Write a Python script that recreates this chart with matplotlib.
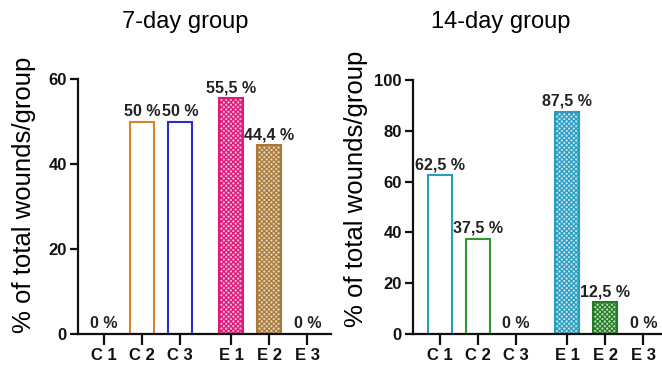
import matplotlib.pyplot as plt
import numpy as np

plt.rcParams['font.family'] = ['Liberation Sans', 'DejaVu Sans']
plt.rcParams['hatch.linewidth'] = 0.9

# Data
groups = ["C 1", "C 2", "C 3", "E 1", "E 2", "E 3"]
values_7 = [0, 50, 50, 55.5, 44.4, 0]
labels_7 = ["0 %", "50 %", "50 %", "55,5 %", "44,4 %", "0 %"]
values_14 = [62.5, 37.5, 0, 87.5, 12.5, 0]
labels_14 = ["62,5 %", "37,5 %", "0 %", "87,5 %", "12,5 %", "0 %"]

colors_7 = ["#D9822B", "#D9822B", "#2B2BD0", "#E0187A", "#A87A3A", "#A87A3A"]
faces_7 = ["white", "white", "white", "#F3B3D2", "#E6D2B5", "white"]
colors_14 = ["#2A9CC0", "#2F9A2F", "#2F9A2F", "#2A9CC0", "#257A25", "#257A25"]
faces_14 = ["white", "white", "white", "#BFE3EE", "#B7DDB7", "white"]
hatched = [False, False, False, True, True, True]

# bar positions: E-group shifted right to leave a gap
xpos = np.arange(len(groups)) + np.array([0, 0, 0, 1, 1, 1]) * 0.35

W, H = 662, 366
fig = plt.figure(figsize=(W / 100, H / 100), dpi=100)
ax1 = fig.add_axes([78 / W, 1 - 334 / H, 253 / W, 255 / H])
ax2 = fig.add_axes([413 / W, 1 - 334 / H, 249 / W, 254 / H])


def draw(ax, values, labels, edges, faces, ymax, yticks, xlim):
    for x, v, lab, ec, fc, h in zip(xpos, values, labels, edges, faces, hatched):
        if v > 0:
            ax.bar(x, v, width=0.63, facecolor=fc, edgecolor=ec, linewidth=1.5,
                   hatch='xxxxxxx' if h else None, zorder=2)
        ax.annotate(lab, (x, v), xytext=(0, 2), textcoords='offset points',
                    ha='center', va='bottom', fontsize=11.5, fontweight='bold',
                    color='#222222')
    ax.set_ylim(0, ymax)
    ax.set_xlim(*xlim)
    ax.set_yticks(yticks)
    ax.set_xticks(xpos)
    ax.set_xticklabels(groups)
    for s in ['top', 'right']:
        ax.spines[s].set_visible(False)
    for s in ['left', 'bottom']:
        ax.spines[s].set_linewidth(1.6)
        ax.spines[s].set_color('#111111')
    ax.tick_params(axis='both', width=1.6, labelsize=12, colors='#111111')
    ax.tick_params(axis='x', length=8, pad=2)
    ax.tick_params(axis='y', length=6, pad=2)
    for t in ax.get_xticklabels() + ax.get_yticklabels():
        t.set_fontweight('bold')


draw(ax1, values_7, labels_7, colors_7, faces_7, 60, [0, 20, 40, 60], (-0.68, 5.97))
draw(ax2, values_14, labels_14, colors_14, faces_14, 100, [0, 20, 40, 60, 80, 100], (-0.71, 5.84))

# y labels and titles placed as in the original figure
fig.text(24 / W, 1 - 195 / H, "% of total wounds/group", rotation=90,
         fontsize=18.5, ha='center', va='center')
fig.text(356 / W, 1 - 189 / H, "% of total wounds/group", rotation=90,
         fontsize=18.5, ha='center', va='center')
fig.text(185 / W, 1 - 28 / H, "7-day group", fontsize=17, ha='center', va='baseline')
fig.text(501 / W, 1 - 28 / H, "14-day group", fontsize=17, ha='center', va='baseline')

fig.savefig("out.png", dpi=100)
